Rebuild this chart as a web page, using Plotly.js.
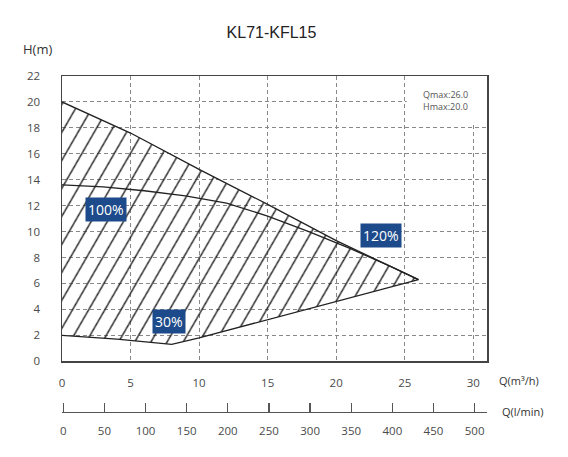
<!DOCTYPE html>
<html>
<head>
<meta charset="utf-8">
<script src="https://cdn.plot.ly/plotly-3.0.1.min.js"></script>
<style>html,body{margin:0;padding:0;background:#fff;}#chart{width:568px;height:457px;}</style>
</head>
<body>
<div id="chart"></div>
<script>
// Upper envelope (max speed curve)
const maxQ = [0, 5, 10, 15, 20, 26];
const maxH = [20.0, 17.6, 14.8, 12.1, 9.3, 6.3];
// 100% curve
const q100 = [0, 3, 6, 9, 12, 15, 18, 21, 24, 26];
const h100 = [13.6, 13.45, 13.15, 12.75, 12.2, 11.2, 10.0, 8.7, 7.3, 6.3];
// Lower envelope (30%)
const minQ = [0, 4, 8, 10, 26];
const minH = [2.0, 1.7, 1.3, 1.8, 6.3];
// Labels
const curveLabels = ['100%', '120%', '30%'];
const labelQ = [3.2, 23.3, 7.8];
const labelH = [11.7, 9.7, 3.1];
// Tick values
const qTicks = [0, 5, 10, 15, 20, 25, 30];
const hTicks = [0, 2, 4, 6, 8, 10, 12, 14, 16, 18, 20, 22];
const lminTicks = [0, 50, 100, 150, 200, 250, 300, 350, 400, 450, 500];

const polyX = maxQ.concat(minQ.slice().reverse());
const polyY = maxH.concat(minH.slice().reverse());

const lineCol = '#222';
const traces = [
  {x: polyX, y: polyY, type: 'scatter', mode: 'lines', fill: 'toself',
   fillcolor: 'rgba(0,0,0,0)',
   fillpattern: {shape: '/', fgcolor: '#222', bgcolor: 'rgba(0,0,0,0)', size: 14, solidity: 0.1},
   line: {color: lineCol, width: 1.3}, hoverinfo: 'skip', showlegend: false},
  {x: q100, y: h100, type: 'scatter', mode: 'lines', line: {color: lineCol, width: 1.3}, showlegend: false},
  {x: [0, 500], y: [0, 0], xaxis: 'x2', yaxis: 'y', type: 'scatter', mode: 'lines', line: {width: 0}, showlegend: false, hoverinfo: 'skip'}
];

const annotations = curveLabels.map((t, i) => ({
  x: labelQ[i], y: labelH[i], xref: 'x', yref: 'y', text: t, showarrow: false,
  bgcolor: '#1c4a8a', borderpad: 2,
  font: {family: 'Open Sans, sans-serif', size: 14, color: '#fff'}
}));
annotations.push(
  {x: 445, y: 100, xref: 'paper', yref: 'paper', text: 'Qmax:26.0<br>Hmax:20.0', showarrow: false,
   xanchor: 'center', yanchor: 'middle',
   font: {family: 'Open Sans, sans-serif', size: 9, color: '#555'}, align: 'left'},
  {x: 37, y: 49, xref: 'paper', yref: 'paper', text: 'H(m)', showarrow: false, xanchor: 'center', yanchor: 'middle',
   font: {family: 'Open Sans, sans-serif', size: 13, color: '#333'}},
  {x: 497, y: 380, xref: 'paper', yref: 'paper', text: 'Q(m³/h)', showarrow: false, xanchor: 'left', yanchor: 'middle',
   font: {family: 'Open Sans, sans-serif', size: 11, color: '#333'}},
  {x: 500, y: 411, xref: 'paper', yref: 'paper', text: 'Q(l/min)', showarrow: false, xanchor: 'left', yanchor: 'middle',
   font: {family: 'Open Sans, sans-serif', size: 11, color: '#333'}}
);

// convert pixel-positioned annotations to paper coords
const W = 568, H = 457, mL = 61.6, mR = 81, mT = 76, mB = 45.3;
const pw = W - mL - mR, ph = H - mT - mB;
annotations.forEach(a => {
  if (a.xref === 'paper') { a.x = (a.x - mL) / pw; a.y = 1 - (a.y - mT) / ph; }
});

const tickFont = {family: 'Open Sans, sans-serif', size: 11.5, color: '#4a4a4a'};
const gridStyle = {showgrid: true, gridcolor: '#888', gridwidth: 1, griddash: '4px,3px'};
const xMax = 31;
const off = 1.6;
const layout = {
  width: W, height: H,
  margin: {l: mL, r: mR, t: mT, b: mB, pad: 0},
  paper_bgcolor: '#fff', plot_bgcolor: '#fff',
  title: {text: 'KL71-KFL15', x: 0.478, xanchor: 'center', y: 1 - 32 / H, yanchor: 'middle',
          font: {family: 'Liberation Sans, Arial, sans-serif', size: 16, color: '#222'}},
  xaxis: Object.assign({range: [0, xMax], tickvals: qTicks, ticks: '', tickfont: tickFont,
    showline: true, linecolor: '#444', linewidth: 1.5, mirror: true, zeroline: false,
    ticklabelstandoff: 10, anchor: 'y'}, gridStyle),
  yaxis: Object.assign({range: [0, 22], tickvals: hTicks, ticks: '', tickfont: tickFont,
    showline: true, linecolor: '#444', linewidth: 1.5, mirror: true, zeroline: false,
    domain: [(411.7 - 361) / ph, 1], ticklabelstandoff: 18}, gridStyle),
  xaxis2: {range: [-off, xMax * 50 / 3 - off], tickvals: lminTicks, overlaying: 'x', anchor: 'free', position: 0,
    side: 'bottom', showgrid: false, zeroline: false, showline: true, linecolor: '#555', linewidth: 1.3,
    ticks: 'inside', ticklen: 9, tickwidth: 1.3, tickcolor: '#555', tickfont: tickFont, ticklabelstandoff: 8},
  annotations: annotations,
  shapes: [
    {type: 'rect', xref: 'x', yref: 'y', x0: 25.15, x1: xMax, y0: 18.3, y1: 22, fillcolor: '#fff',
     line: {width: 0}, layer: 'between'}
  ],
  showlegend: false
};
Plotly.newPlot('chart', traces, layout, {displayModeBar: false, staticPlot: true}).then(gd => {
  // steepen the hatch lines to match the reference's angle
  gd.querySelectorAll('pattern').forEach(p => p.setAttribute('patternTransform', 'rotate(-15)'));
});
</script>
</body>
</html>
